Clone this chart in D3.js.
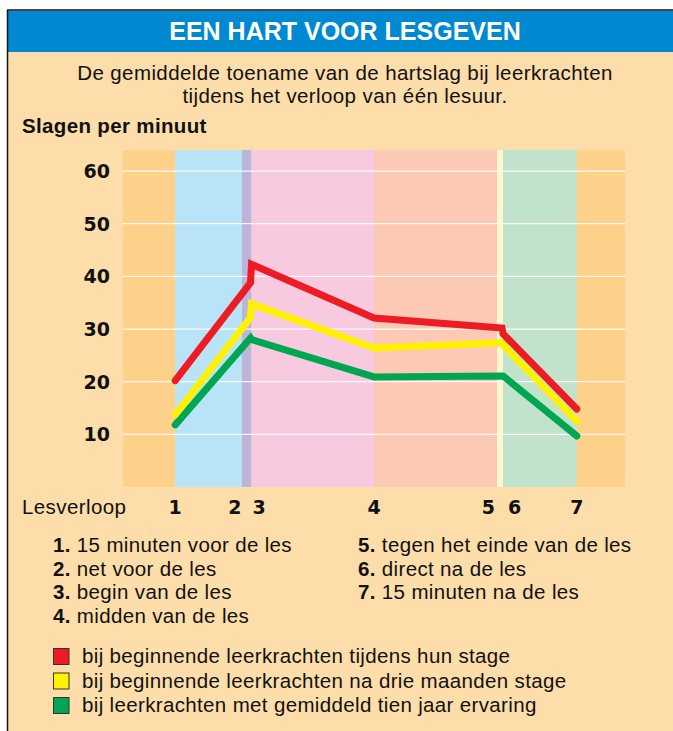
<!DOCTYPE html>
<html>
<head>
<meta charset="utf-8">
<script src="https://cdn.jsdelivr.net/npm/d3@7"></script>
<style>
  body { margin: 0; background: #fff; }
  svg { display: block; }
</style>
</head>
<body>
<svg id="chart"></svg>
<script>
var width = 673;
var height = 731;

// lesson moments (minutes relative to start of the lesson)
var pointLabels = ["1", "2", "3", "4", "5", "6", "7"];
var pointMinutes = [-14.6, 0.4, 0.6, 25, 50.5, 50.7, 65.4];
var labelMinutes = [-14.6, -2.7, 2.1, 25, 47.8, 53.0, 65.4];

// heart rate increase per group
var redValues = [20.2, 38.8, 42.3, 32.1, 30.2, 29.1, 14.8];
var yellowValues = [13.7, 32.2, 34.8, 26.4, 27.4, 27.0, 12.5];
var greenValues = [11.8, 28.3, 28.0, 20.9, 21.1, 21.1, 9.7];

// coloured phases behind the lines
var bandEdges = [-25, -14.6, -1.3, 0.6, 25, 49.5, 50.7, 65.4, 75];
var bandColors = ["#fdd18a", "#b9e4f7", "#bab5d9", "#f8cadf", "#fbc9b4", "#fff8cf", "#c2e3cb", "#fdd18a"];

var yTicks = [10, 20, 30, 40, 50, 60];

var notesLeft = [["1.", "15 minuten voor de les"], ["2.", "net voor de les"], ["3.", "begin van de les"], ["4.", "midden van de les"]];
var notesRight = [["5.", "tegen het einde van de les"], ["6.", "direct na de les"], ["7.", "15 minuten na de les"]];

var legendNames = ["bij beginnende leerkrachten tijdens hun stage",
                   "bij beginnende leerkrachten na drie maanden stage",
                   "bij leerkrachten met gemiddeld tien jaar ervaring"];
var legendColors = ["#ed1c24", "#fff200", "#00a651"];

var font = "'Liberation Sans', Arial, sans-serif";
var numFont = "'DejaVu Sans', sans-serif";

var x = d3.scaleLinear().domain([-25, 75]).range([123, 625]);
var y = d3.scaleLinear().domain([0, 64]).range([487, 150]);

var svg = d3.select("#chart")
  .attr("width", width)
  .attr("height", height);

// frame
svg.append("rect").attr("x", 8).attr("y", 10).attr("width", width - 8).attr("height", height - 10)
  .attr("fill", "#fddda9");
svg.append("rect").attr("x", 8).attr("y", 11).attr("width", width - 8).attr("height", 41)
  .attr("fill", "#0088d0");
svg.append("line").attr("x1", 7).attr("x2", width).attr("y1", 10).attr("y2", 10)
  .attr("stroke", "#111").attr("stroke-width", 1.5);
svg.append("line").attr("x1", 7.5).attr("x2", 7.5).attr("y1", 10).attr("y2", height)
  .attr("stroke", "#111").attr("stroke-width", 1.5);

svg.append("text").attr("x", 345).attr("y", 40)
  .attr("text-anchor", "middle")
  .attr("font-family", font)
  .attr("font-weight", "bold").attr("font-size", 25).attr("fill", "#fff")
  .text("EEN HART VOOR LESGEVEN");

svg.append("text").attr("x", 345).attr("y", 80)
  .attr("text-anchor", "middle").attr("font-family", font).attr("font-size", 20.5)
  .attr("letter-spacing", 0.4).attr("fill", "#111")
  .text("De gemiddelde toename van de hartslag bij leerkrachten");
svg.append("text").attr("x", 345).attr("y", 103)
  .attr("text-anchor", "middle").attr("font-family", font).attr("font-size", 20.5)
  .attr("letter-spacing", 0.4).attr("fill", "#111")
  .text("tijdens het verloop van één lesuur.");

svg.append("text").attr("x", 22).attr("y", 133)
  .attr("font-family", font).attr("font-weight", "bold").attr("font-size", 20.5)
  .attr("letter-spacing", 0.35).attr("fill", "#111")
  .text("Slagen per minuut");

// bands
svg.selectAll("rect.band")
  .data(bandColors)
  .enter().append("rect")
  .attr("class", "band")
  .attr("x", (d, i) => x(bandEdges[i]))
  .attr("width", (d, i) => x(bandEdges[i + 1]) - x(bandEdges[i]))
  .attr("y", y(64))
  .attr("height", y(0) - y(64))
  .attr("fill", d => d);

// gridlines + y labels
svg.selectAll("line.grid")
  .data(yTicks)
  .enter().append("line")
  .attr("class", "grid")
  .attr("x1", x(-25)).attr("x2", x(75))
  .attr("y1", d => y(d)).attr("y2", d => y(d))
  .attr("stroke", "#fff").attr("stroke-width", 1.3).attr("opacity", 0.9);

svg.selectAll("text.ytick")
  .data(yTicks)
  .enter().append("text")
  .attr("class", "ytick")
  .attr("x", 110).attr("y", d => y(d) + 7)
  .attr("text-anchor", "end")
  .attr("font-family", numFont).attr("font-weight", "bold").attr("font-size", 19).attr("fill", "#111")
  .text(d => d);

// lines
var line = d3.line()
  .x((d, i) => x(pointMinutes[i]))
  .y(d => y(d));

var series = [greenValues, yellowValues, redValues];
var seriesColors = [legendColors[2], legendColors[1], legendColors[0]];

svg.selectAll("path.series")
  .data(series)
  .enter().append("path")
  .attr("class", "series")
  .attr("d", d => line(d))
  .attr("fill", "none")
  .attr("stroke", (d, i) => seriesColors[i])
  .attr("stroke-width", 7)
  .attr("stroke-linejoin", "miter")
  .attr("stroke-miterlimit", 10)
  .attr("stroke-linecap", "round");

// x labels
svg.append("text").attr("x", 22).attr("y", 514)
  .attr("font-family", font).attr("font-size", 20.5).attr("letter-spacing", 0.4).attr("fill", "#111")
  .text("Lesverloop");

svg.selectAll("text.xtick")
  .data(pointLabels)
  .enter().append("text")
  .attr("class", "xtick")
  .attr("x", (d, i) => x(labelMinutes[i])).attr("y", 514)
  .attr("text-anchor", "middle")
  .attr("font-family", numFont).attr("font-weight", "bold").attr("font-size", 19).attr("fill", "#111")
  .text(d => d);

// notes
function notes(list, x0) {
  var t = svg.append("g").selectAll("text")
    .data(list)
    .enter().append("text")
    .attr("x", x0).attr("y", (d, i) => 552 + i * 23.6)
    .attr("font-family", font).attr("font-size", 20.5).attr("letter-spacing", 0.35).attr("fill", "#111");
  t.append("tspan").attr("font-weight", "bold").text(d => d[0]);
  t.append("tspan").text(d => " " + d[1]);
}
notes(notesLeft, 53);
notes(notesRight, 358);

// legend
var leg = svg.append("g").selectAll("g")
  .data(legendNames)
  .enter().append("g")
  .attr("transform", (d, i) => "translate(53," + (648 + i * 24.5) + ")");
leg.append("rect").attr("x", 0.5).attr("y", 0.5).attr("width", 15.5).attr("height", 16)
  .attr("fill", (d, i) => legendColors[i]).attr("stroke", "#333").attr("stroke-width", 1);
leg.append("text").attr("x", 29).attr("y", 15)
  .attr("font-family", font).attr("font-size", 20.5).attr("letter-spacing", 0.35).attr("fill", "#111")
  .text(d => d);
</script>
</body>
</html>
